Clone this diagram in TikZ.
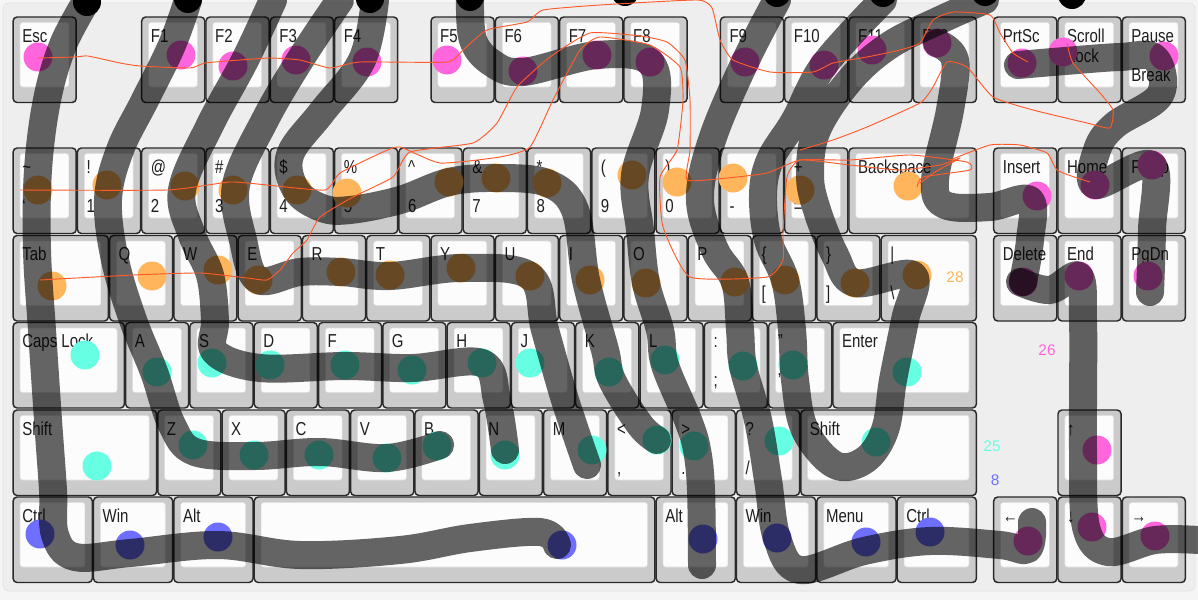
\documentclass[tikz,border=0pt]{standalone}
\usepackage{fontspec}
\usepackage{graphicx}
\setmainfont{Liberation Sans}
\definecolor{panel}{HTML}{EEEEEE}
\definecolor{keyface}{HTML}{FCFCFC}
\definecolor{keyside}{HTML}{CBCBCB}
\definecolor{keyline}{HTML}{2A2A2A}
\definecolor{cmag}{HTML}{FF66DD}
\definecolor{corg}{HTML}{FFB55C}
\definecolor{ccya}{HTML}{66FFE4}
\definecolor{cblu}{HTML}{6F6FFF}
\definecolor{cred}{HTML}{FF5A2A}
\newcommand{\kbkey}[6]{%
  \pgfmathsetmacro{\kx}{12.5+64.3*#1}%
  \pgfmathsetmacro{\kw}{64.3*#3}%
  \draw[keyout] (\kx+0.6,#2) rectangle ++(\kw-1.2,85.5);
  \draw[keyin] (\kx+7.5,#2+5.5) rectangle ++(\kw-15.5,64.5);
  \node[klab] (#6a) at (\kx+9.5,#2+25) {\scalebox{1}[1.25]{#4}};
  \node[klab] (#6b) at (\kx+9.5,#2+64) {\scalebox{1}[1.25]{#5}};
}
\begin{document}
\begin{tikzpicture}[x=0.75pt,y=-0.75pt,
  keyout/.style={draw=keyline,fill=keyside,line width=1.1pt,rounded corners=3pt},
  keyin/.style={draw=black!12,fill=keyface,line width=0.4pt,rounded corners=2pt},
  klab/.style={anchor=base west,inner sep=0pt,font=\fontsize{11.25}{12}\selectfont,text=black!88},
  mag/.style={fill=cmag}, org/.style={fill=corg}, cya/.style={fill=ccya}, blu/.style={fill=cblu},
  trail/.style={draw=black,draw opacity=0.6,line width=21pt,line cap=round,line join=round},
  thin/.style={draw=cred,line width=0.7pt,line join=round},
  cnt/.style={font=\fontsize{11.5}{12}\selectfont,inner sep=0pt}]
\useasboundingbox (0,0) rectangle (1198,600);
\fill[white!96!black] (0,0) rectangle (1198,600);
\draw[fill=panel,draw=black!12,rounded corners=4pt] (3,3) rectangle (1195,591);
% F row
\def\ry{17}
\kbkey{0}{\ry}{1}{Esc}{}{kesc}
\kbkey{2}{\ry}{1}{F1}{}{kf1}
\kbkey{3}{\ry}{1}{F2}{}{kf2}
\kbkey{4}{\ry}{1}{F3}{}{kf3}
\kbkey{5}{\ry}{1}{F4}{}{kf4}
\kbkey{6.5}{\ry}{1}{F5}{}{kf5}
\kbkey{7.5}{\ry}{1}{F6}{}{kf6}
\kbkey{8.5}{\ry}{1}{F7}{}{kf7}
\kbkey{9.5}{\ry}{1}{F8}{}{kf8}
\kbkey{11}{\ry}{1}{F9}{}{kf9}
\kbkey{12}{\ry}{1}{F10}{}{kf10}
\kbkey{13}{\ry}{1}{F11}{}{kf11}
\kbkey{14}{\ry}{1}{F12}{}{kf12}
\kbkey{15.25}{\ry}{1}{PrtSc}{}{kprt}
\kbkey{16.25}{\ry}{1}{Scroll}{}{kscr}
\node[klab] (kscrc) at (12.5+64.3*16.25+9.5,\ry+45) {\scalebox{1}[1.25]{Lock}};
\kbkey{17.25}{\ry}{1}{Pause}{Break}{kpau}
% number row
\def\ry{148}
\kbkey{0}{\ry}{1}{\char`\~}{\char`\`}{kgrv}
\kbkey{1}{\ry}{1}{!}{1}{k1}
\kbkey{2}{\ry}{1}{@}{2}{k2}
\kbkey{3}{\ry}{1}{\#}{3}{k3}
\kbkey{4}{\ry}{1}{\$}{4}{k4}
\kbkey{5}{\ry}{1}{\%}{5}{k5}
\kbkey{6}{\ry}{1}{\char`\^}{6}{k6}
\kbkey{7}{\ry}{1}{\&}{7}{k7}
\kbkey{8}{\ry}{1}{*}{8}{k8}
\kbkey{9}{\ry}{1}{(}{9}{k9}
\kbkey{10}{\ry}{1}{)}{0}{k0}
\kbkey{11}{\ry}{1}{\_}{-}{kmin}
\kbkey{12}{\ry}{1}{+}{=}{keq}
\kbkey{13}{\ry}{2}{Backspace}{}{kbsp}
\kbkey{15.25}{\ry}{1}{Insert}{}{kins}
\kbkey{16.25}{\ry}{1}{Home}{}{khom}
\kbkey{17.25}{\ry}{1}{PgUp}{}{kpgu}
% tab row
\def\ry{235.5}
\kbkey{0}{\ry}{1.5}{Tab}{}{ktab}
\kbkey{1.5}{\ry}{1}{Q}{}{kq}
\kbkey{2.5}{\ry}{1}{W}{}{kw}
\kbkey{3.5}{\ry}{1}{E}{}{ke}
\kbkey{4.5}{\ry}{1}{R}{}{kr}
\kbkey{5.5}{\ry}{1}{T}{}{kt}
\kbkey{6.5}{\ry}{1}{Y}{}{ky}
\kbkey{7.5}{\ry}{1}{U}{}{ku}
\kbkey{8.5}{\ry}{1}{I}{}{ki}
\kbkey{9.5}{\ry}{1}{O}{}{ko}
\kbkey{10.5}{\ry}{1}{P}{}{kp}
\kbkey{11.5}{\ry}{1}{\{}{[}{klbr}
\kbkey{12.5}{\ry}{1}{\}}{]}{krbr}
\kbkey{13.5}{\ry}{1.5}{|}{\char`\\}{kbsl}
\kbkey{15.25}{\ry}{1}{Delete}{}{kdel}
\kbkey{16.25}{\ry}{1}{End}{}{kend}
\kbkey{17.25}{\ry}{1}{PgDn}{}{kpgd}
% caps row
\def\ry{322.5}
\kbkey{0}{\ry}{1.75}{Caps Lock}{}{kcap}
\kbkey{1.75}{\ry}{1}{A}{}{ka}
\kbkey{2.75}{\ry}{1}{S}{}{ks}
\kbkey{3.75}{\ry}{1}{D}{}{kd}
\kbkey{4.75}{\ry}{1}{F}{}{kf}
\kbkey{5.75}{\ry}{1}{G}{}{kg}
\kbkey{6.75}{\ry}{1}{H}{}{kh}
\kbkey{7.75}{\ry}{1}{J}{}{kj}
\kbkey{8.75}{\ry}{1}{K}{}{kk}
\kbkey{9.75}{\ry}{1}{L}{}{kl}
\kbkey{10.75}{\ry}{1}{:}{;}{ksem}
\kbkey{11.75}{\ry}{1}{"}{'}{kapo}
\kbkey{12.75}{\ry}{2.25}{Enter}{}{kent}
% shift row
\def\ry{410}
\kbkey{0}{\ry}{2.25}{Shift}{}{klsh}
\kbkey{2.25}{\ry}{1}{Z}{}{kz}
\kbkey{3.25}{\ry}{1}{X}{}{kx}
\kbkey{4.25}{\ry}{1}{C}{}{kc}
\kbkey{5.25}{\ry}{1}{V}{}{kv}
\kbkey{6.25}{\ry}{1}{B}{}{kb}
\kbkey{7.25}{\ry}{1}{N}{}{kn}
\kbkey{8.25}{\ry}{1}{M}{}{km}
\kbkey{9.25}{\ry}{1}{<}{,}{kcom}
\kbkey{10.25}{\ry}{1}{>}{.}{kdot}
\kbkey{11.25}{\ry}{1}{?}{/}{ksla}
\kbkey{12.25}{\ry}{2.75}{Shift}{}{krsh}
\kbkey{16.25}{\ry}{1}{↑}{}{kup}
% bottom row
\def\ry{497}
\kbkey{0}{\ry}{1.25}{Ctrl}{}{klct}
\kbkey{1.25}{\ry}{1.25}{Win}{}{klwi}
\kbkey{2.5}{\ry}{1.25}{Alt}{}{klal}
\kbkey{3.75}{\ry}{6.25}{}{}{kspc}
\kbkey{10}{\ry}{1.25}{Alt}{}{kral}
\kbkey{11.25}{\ry}{1.25}{Win}{}{krwi}
\kbkey{12.5}{\ry}{1.25}{Menu}{}{kmen}
\kbkey{13.75}{\ry}{1.25}{Ctrl}{}{krct}
\kbkey{15.25}{\ry}{1}{←}{}{klef}
\kbkey{16.25}{\ry}{1}{↓}{}{kdow}
\kbkey{17.25}{\ry}{1}{→}{}{krig}
% heat dots
\foreach \p in {(38,57),(181,55),(233,66),(296,60),(367,62),(447,60),(523,71),(597,55),(650,62),(745,62),(824,65),(872,50),(937,43),(1022,63),(1063,52),(1164,56),(1037,196),(1095,185),(1152,165),(1023,282),(1079,276),(1148,276),(1097,450),(1028,541),(1092,527),(1155,536)}
  \fill[mag] \p circle[radius=14.5];
\foreach \p in {(38,190),(107,185),(185,186),(233,190),(297,190),(347,193),(449,182),(496,178),(547,183),(632,175),(677,182),(733,178),(800,190),(908,186),(52,286),(152,276),(218,270),(258,280),(341,272),(390,275),(461,268),(530,276),(590,280),(646,283),(735,282),(785,280),(855,283),(917,275)}
  \fill[org] \p circle[radius=14.5];
\foreach \p in {(85,355),(157,372),(212,363),(270,365),(345,365),(412,370),(482,363),(530,363),(609,372),(665,360),(743,366),(793,365),(907,372),(97,466),(193,445),(254,455),(319,455),(387,458),(437,446),(505,455),(592,450),(657,440),(694,446),(779,441),(876,442)}
  \fill[cya] \p circle[radius=14.5];
\foreach \p in {(40,534),(130,545),(218,537),(562,545),(703,539),(777,538),(866,542),(930,532)}
  \fill[blu] \p circle[radius=14.5];
\node[cnt,text=corg] (n28) at (955,277) {28};
\node[cnt,text=cmag] (n26) at (1047,350) {26};
\node[cnt,text=ccya] (n25) at (992,446) {25};
\node[cnt,text=cblu] (n8) at (995,480) {8};
% trails
\draw[trail] plot[smooth,tension=0.6] coordinates {(87,0) (63,45) (47,100) (38,170) (37,250) (42,330) (48,420) (53,490) (55,535) (75,557) (130,553) (218,545) (300,555) (400,550) (470,538) (540,532) (557,545)};
\draw[trail] plot[smooth,tension=0.6] coordinates {(188,0) (172,45) (145,100) (120,150) (108,200) (115,260) (133,320) (154,372) (172,425) (195,452) (255,456) (320,452) (387,458) (440,445)};
\draw[trail] plot[smooth,tension=0.6] coordinates {(273,0) (245,60) (210,125) (182,190) (192,235) (210,275) (215,320) (215,352) (260,368) (345,366) (412,368) (482,363) (497,400) (505,450)};
\draw[trail] plot[smooth,tension=0.6] coordinates {(340,0) (300,60) (265,120) (236,185) (243,240) (258,280) (300,272) (341,272) (390,276) (461,268) (530,276) (545,330) (565,400) (587,465)};
\draw[trail] plot[smooth,tension=0.6] coordinates {(375,0) (362,60) (322,112) (290,155) (296,190) (322,208) (350,210) (400,200) (449,182) (496,178) (547,183) (575,210) (586,280) (605,350) (612,380) (640,425) (657,440)};
\draw[trail] plot[smooth,tension=0.6] coordinates {(470,0) (473,40) (492,63) (523,72) (597,55) (650,62) (655,110) (635,175) (640,230) (646,283) (660,330) (665,365) (688,420) (697,450) (701,490) (702,565)};
\draw[trail] plot[smooth,tension=0.6] coordinates {(777,0) (745,62) (712,140) (700,200) (715,250) (735,282) (740,330) (743,366) (758,420) (768,480) (777,538) (800,570) (864,551) (930,541) (1000,545) (1028,549) (1032,522)};
\draw[trail] plot[smooth,tension=0.6] coordinates {(985,0) (940,20) (890,45) (850,80) (817,130) (810,175) (817,210) (835,255) (855,283) (913,275) (905,320) (893,380) (885,430) (865,460) (835,465) (805,430) (795,380) (792,330) (785,280) (768,240) (763,195) (770,160) (795,120) (824,65) (883,0)};
\draw[trail] plot[smooth,tension=0.6] coordinates {(937,43) (955,60) (950,110) (935,180) (945,205) (990,207) (1030,200) (1030,240) (1023,282)};
\draw[trail] plot[smooth,tension=0.6] coordinates {(1020,282) (1050,290) (1079,276) (1083,320) (1083,400) (1083,450) (1086,527) (1108,552) (1155,540) (1198,540)};
\draw[trail] plot[smooth,tension=0.6] coordinates {(1018,65) (1065,61) (1120,57) (1155,58) (1160,95) (1115,125) (1097,150) (1095,185) (1152,165) (1152,230) (1150,292)};
% black finger dots
\foreach \p in {(87,2),(188,-1),(370,-1),(470,-3),(625,-8),(777,-7),(883,-7),(985,-8),(1072,-5)}
  \fill[black] \p circle[radius=14];
% thin red traces
\draw[thin] plot[smooth,tension=0.3] coordinates {(38,58) (75,57) (88,56) (120,63) (140,66) (190,68) (205,63) (240,60) (270,58) (300,60) (330,68) (360,62) (447,62) (463,50) (487,30) (527,22) (543,10) (600,5) (697,0) (712,8) (720,40) (733,60) (770,72) (813,72) (833,63) (867,57) (900,50) (920,43) (933,20) (953,12) (990,15) (1000,33) (1013,53) (1028,62)};
\draw[thin] plot[smooth,tension=0.3] coordinates {(40,280) (133,275) (200,273) (247,278) (267,280) (280,270) (293,253) (307,240) (320,217) (353,197) (393,177) (410,152) (473,143) (497,123) (517,87) (550,57) (590,33) (640,36) (667,42) (685,60) (690,100) (690,150) (687,180) (727,178) (767,173) (800,160) (850,160) (910,155) (967,162) (970,170) (923,177) (917,187)};
\draw[thin] plot[smooth,tension=0.3] coordinates {(20,190) (167,190) (230,182) (267,185) (325,190) (340,173) (383,152) (400,147) (440,163) (500,157) (530,147) (553,100) (580,50) (600,37) (650,45) (680,67) (683,100) (677,150) (660,177) (663,227) (690,277) (767,277) (783,260) (783,233) (787,177) (800,160) (850,165) (900,170) (940,165) (960,158) (935,172) (920,183)};
\draw[thin] plot[smooth,tension=0.3] coordinates {(800,150) (833,140) (867,127) (920,103) (933,87) (947,62) (967,67) (993,97) (1033,110) (1087,123) (1110,128) (1113,110) (1100,93) (1073,63) (1067,43)};
\draw[thin] plot[smooth,tension=0.3] coordinates {(950,160) (990,145) (1020,145) (1047,153) (1057,170) (1077,178) (1090,182)};
\end{tikzpicture}
\end{document}
